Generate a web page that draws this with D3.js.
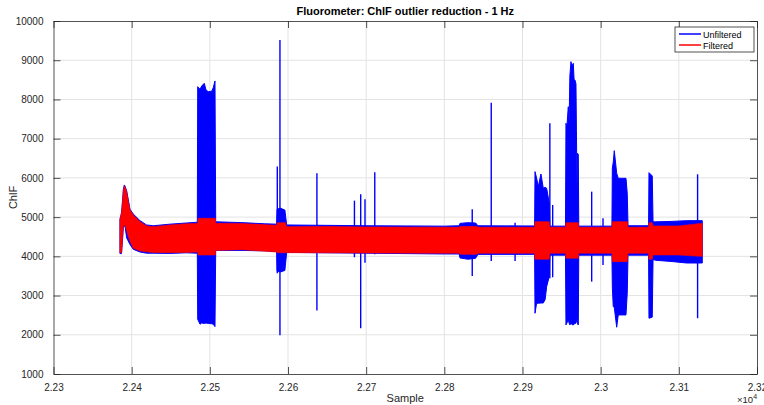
<!DOCTYPE html>
<meta charset="utf-8">
<style>
body { margin: 0; background: #fff; }
svg { font-family: "Liberation Sans", Arial, sans-serif; }
.grid line { stroke: #e3e3e3; stroke-width: 1; }
.raw { fill: #0000ff; stroke: #0000ff; stroke-width: 1; }
.filt { fill: #ff0000; stroke: #ff0000; stroke-width: 0.6; }
.spike { stroke: #0000ff; stroke-width: 1.4; }
</style>
<div id="chart"></div>
<script src="https://d3js.org/d3.v7.min.js"></script>
<script>

// unfiltered signal, min/max envelope
var rawSample = [22385, 22387, 22388.5, 22389.3, 22390.6, 22391.5, 22393.6, 22397.9, 22402, 22410.7, 22419, 22427.7, 22449, 22470, 22484,
  22484.5, 22487.4, 22489.6, 22492.9, 22495.1, 22498, 22502.4, 22504.4, 22506.6, 22507.5,
  22540, 22570, 22585.5, 22586, 22590, 22596, 22598.3, 22650, 22700, 22750, 22800, 22819,
  22820, 22830, 22840, 22843, 22900, 22915.5,
  22916, 22918, 22920.2, 22923.6, 22926.6, 22929, 22930.9, 22934.2, 22935,
  22955, 22955.6, 22956.8, 22957.8, 22958.6, 22959.6, 22960.6, 22962, 22963.2, 22965, 22966, 22967.1, 22968.4, 22969, 22969.8, 22970.4, 22971.4, 22972,
  23014.4, 23014.9, 23016.1, 23017.4, 23020.5, 23022.5, 23028.9, 23032.4, 23034, 23035,
  23061.3, 23061.8, 23066, 23067, 23070, 23090, 23110, 23130];
var rawLow = [4070, 4070, 4480, 4730, 4770, 4770, 4470, 4300, 4180, 4110, 4080, 4080, 4075, 4090, 4080,
  2396, 2269, 2300, 2290, 2300, 2290, 2280, 2269, 2208, 4150,
  4150, 4140, 4120, 3620, 3600, 3640, 4100, 4090, 4080, 4070, 4060, 4060,
  3960, 3926, 3950, 4050, 4050, 4050,
  2549, 2800, 2804, 2810, 2810, 2900, 3227, 3482, 4030,
  4030, 2251, 2300, 2350, 2378, 2300, 2250, 2300, 2260, 2251, 2280, 2280, 2300, 2350, 2400, 2280, 2251, 4030,
  4030, 3227, 2717, 2700, 2192, 2506, 2506, 2506, 3059, 4030,
  4030, 2422, 2450, 3920, 3900, 3870, 3830, 3830];
var rawHigh = [4950, 5100, 5460, 5700, 5820, 5790, 5670, 5200, 5080, 4910, 4800, 4780, 4820, 4850, 4870,
  8325, 8259, 8343, 8412, 8241, 8198, 8210, 8300, 8471, 4880,
  4860, 4830, 4820, 5200, 5230, 5180, 4800, 4790, 4780, 4775, 4770, 4780,
  4840, 4858, 4850, 4780, 4775, 4775,
  6159, 6000, 5776, 6100, 5735, 5760, 5735, 5361, 4770,
  4770, 7392, 7300, 7600, 7815, 7400, 8600, 8963, 8850, 8922, 8500, 8496, 8400, 7200, 5600, 6627, 6600, 4770,
  4770, 6245, 6400, 6694, 6118, 5990, 5990, 5990, 5608, 4780,
  4780, 6134, 6050, 4880, 4880, 4890, 4910, 4910];

// filtered signal envelope
var filtSample = [22385, 22387.2, 22388.5, 22389.3, 22390.6, 22391.5, 22393.6, 22395.7, 22397.9, 22402.1, 22410.7, 22419.2, 22423.4, 22427.7, 22449, 22470, 22484.5,
  22485, 22507, 22507.5, 22540, 22585.5, 22586, 22597, 22598, 22650, 22700, 22800, 22819,
  22820, 22842, 22843, 22915.5, 22916, 22934, 22935, 22955, 22955.6, 22971.4, 22972,
  23014.4, 23014.9, 23034, 23035, 23061.3, 23061.8, 23066, 23067, 23100, 23128, 23130];
var filtLow = [4094, 4094, 4500, 4757, 4790, 4800, 4650, 4502, 4380, 4206, 4137, 4115, 4104, 4100, 4094, 4100, 4110,
  4035, 4035, 4150, 4170, 4110, 4090, 4090, 4094, 4090, 4085, 4078, 4078,
  4050, 4050, 4078, 4078, 3926, 3926, 4078, 4078, 3951, 3951, 4078,
  4078, 3865, 3865, 4078, 4078, 3926, 3926, 4035, 4035, 4000, 4000];
var filtHigh = [4927, 5150, 5437, 5650, 5802, 5760, 5649, 5400, 5182, 5055, 4884, 4775, 4765, 4757, 4800, 4830, 4840,
  4970, 4970, 4843, 4840, 4790, 4858, 4858, 4757, 4760, 4750, 4741, 4741,
  4760, 4760, 4741, 4741, 4884, 4884, 4741, 4741, 4858, 4858, 4741,
  4741, 4884, 4884, 4741, 4741, 4858, 4858, 4775, 4775, 4840, 4840];

// isolated outliers in the unfiltered signal
var spikeSample = [22586.3, 22589.7, 22637, 22685, 22693, 22698.5, 22711, 22835.7, 22860, 22890.5, 22935, 22938.6, 22988.5, 23003, 23124];
var spikeLow = [3570, 1988, 2616, 3977, 2167, 3839, 4050, 3500, 3882, 3882, 3441, 3466, 3355, 3780, 2422];
var spikeHigh = [6290, 9516, 6118, 5420, 5583, 5455, 6143, 5200, 7917, 4858, 7392, 5310, 5649, 4971, 6092];

var xTicks = [22300, 22400, 22500, 22600, 22700, 22800, 22900, 23000, 23100, 23200];
var yTicks = [1000, 2000, 3000, 4000, 5000, 6000, 7000, 8000, 9000, 10000];

var W = 764, H = 405;
var margin = {top: 21, right: 7, bottom: 31, left: 53.5};
var width = W - margin.left - margin.right;
var height = H - margin.top - margin.bottom;

var svg = d3.select("#chart").append("svg")
    .attr("width", W).attr("height", H);

var x = d3.scaleLinear().domain([22300, 23200]).range([0, width]);
var y = d3.scaleLinear().domain([1000, 10000]).range([height, 0]);

var g = svg.append("g").attr("transform", "translate(" + margin.left + "," + margin.top + ")");

// grid
var grid = g.append("g").attr("class", "grid");
grid.selectAll(".gx").data(xTicks.slice(1, -1)).enter().append("line")
    .attr("x1", function(d) { return x(d); }).attr("x2", function(d) { return x(d); })
    .attr("y1", 0).attr("y2", height);
grid.selectAll(".gy").data(yTicks.slice(1, -1)).enter().append("line")
    .attr("y1", function(d) { return y(d); }).attr("y2", function(d) { return y(d); })
    .attr("x1", 0).attr("x2", width);

function zip(s, lo, hi) {
  return s.map(function(v, i) { return {s: v, lo: lo[i], hi: hi[i]}; });
}

var area = d3.area()
    .x(function(d) { return x(d.s); })
    .y0(function(d) { return y(d.lo); })
    .y1(function(d) { return y(d.hi); });

g.append("path").datum(zip(rawSample, rawLow, rawHigh)).attr("class", "raw").attr("d", area);
g.selectAll(".spike").data(zip(spikeSample, spikeLow, spikeHigh)).enter().append("line")
    .attr("class", "spike")
    .attr("x1", function(d) { return x(d.s); }).attr("x2", function(d) { return x(d.s); })
    .attr("y1", function(d) { return y(d.lo); }).attr("y2", function(d) { return y(d.hi); });
g.append("path").datum(zip(filtSample, filtLow, filtHigh)).attr("class", "filt").attr("d", area);

// axes, matlab style: ticks inside on all four sides
var tl = 7;
var fmtX = function(d) { return String(+(d / 10000).toFixed(2)); };
function styleAxis(sel) {
  sel.select(".domain").attr("stroke", "#262626").attr("stroke-width", 0.8);
  sel.selectAll(".tick line").attr("stroke", "#262626").attr("stroke-width", 0.8);
  sel.selectAll("text").attr("fill", "#262626").style("font-size", "10px");
}
g.append("g").attr("transform", "translate(0," + height + ")")
    .call(d3.axisBottom(x).tickValues(xTicks).tickFormat(fmtX).tickSizeInner(-tl).tickSizeOuter(0).tickPadding(10))
    .call(styleAxis);
g.append("g")
    .call(d3.axisTop(x).tickValues(xTicks).tickFormat("").tickSizeInner(-tl).tickSizeOuter(0))
    .call(styleAxis);
g.append("g")
    .call(d3.axisLeft(y).tickValues(yTicks).tickFormat(d3.format("d")).tickSizeInner(-tl).tickSizeOuter(0).tickPadding(10))
    .call(styleAxis);
g.append("g").attr("transform", "translate(" + width + ",0)")
    .call(d3.axisRight(y).tickValues(yTicks).tickFormat("").tickSizeInner(-tl).tickSizeOuter(0))
    .call(styleAxis);

// labels
svg.append("text").attr("x", margin.left + width / 2).attr("y", 15)
    .attr("text-anchor", "middle").style("font-size", "11px").style("font-weight", "bold")
    .attr("fill", "#000").text("Fluorometer: ChlF outlier reduction - 1 Hz");
svg.append("text").attr("x", margin.left + width / 2).attr("y", 402)
    .attr("text-anchor", "middle").style("font-size", "11px").attr("fill", "#262626").text("Sample");
svg.append("text").attr("transform", "translate(17," + (margin.top + height / 2) + ") rotate(-90)")
    .attr("text-anchor", "middle").style("font-size", "11px").attr("fill", "#262626").text("ChlF");
var ex = svg.append("text").attr("x", 737).attr("y", 403).style("font-size", "9.5px").attr("fill", "#262626");
ex.append("tspan").text("\u00d710");
ex.append("tspan").attr("dy", -4).style("font-size", "7px").text("4");

// legend
var lg = svg.append("g").attr("transform", "translate(675,27)");
lg.append("rect").attr("width", 79).attr("height", 25).attr("fill", "#fff")
    .attr("stroke", "#262626").attr("stroke-width", 0.8);
[["Unfiltered", "#0000ff"], ["Filtered", "#ff0000"]].forEach(function(d, i) {
  var yy = 7 + i * 11;
  lg.append("line").attr("x1", 4).attr("x2", 26).attr("y1", yy).attr("y2", yy)
      .attr("stroke", d[1]).attr("stroke-width", 1.5);
  lg.append("text").attr("x", 28).attr("y", yy + 3.5).style("font-size", "9px")
      .attr("fill", "#000").text(d[0]);
});
</script>
